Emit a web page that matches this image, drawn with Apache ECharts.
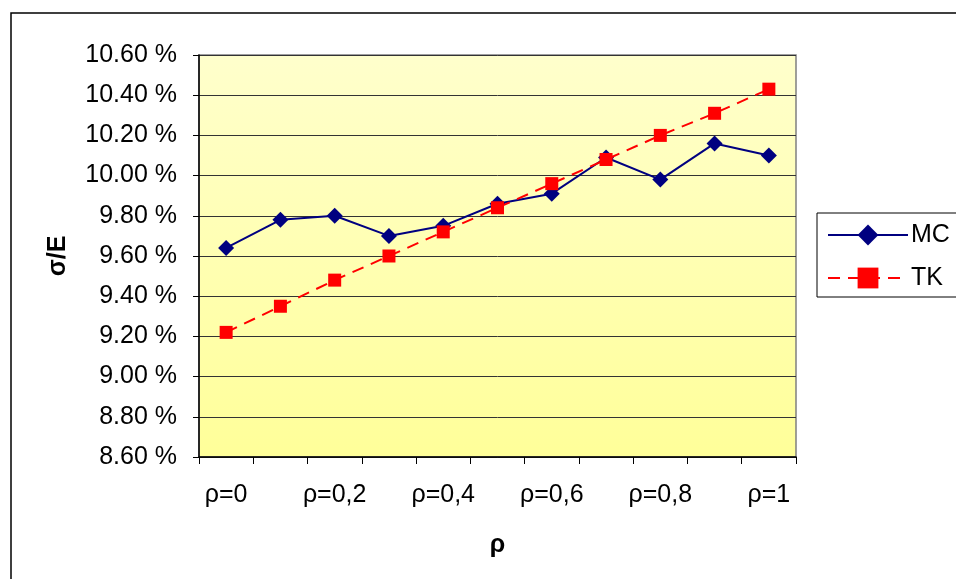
<!DOCTYPE html>
<html>
<head>
<meta charset="utf-8">
<script src="https://cdn.jsdelivr.net/npm/echarts@6/dist/echarts.min.js"></script>
<style>
  html, body { margin: 0; padding: 0; background: #fff; }
  #chart { width: 956px; height: 579px; }
</style>
</head>
<body>
<div id="chart"></div>
<script>
// Correlation levels on the x axis
var categories = ['ρ=0', 'ρ=0,1', 'ρ=0,2', 'ρ=0,3', 'ρ=0,4', 'ρ=0,5',
                  'ρ=0,6', 'ρ=0,7', 'ρ=0,8', 'ρ=0,9', 'ρ=1'];
// σ/E in percent
var mcValues = [9.64, 9.78, 9.80, 9.70, 9.75, 9.86, 9.91, 10.09, 9.98, 10.16, 10.10];
var tkValues = [9.22, 9.35, 9.48, 9.60, 9.72, 9.84, 9.96, 10.08, 10.20, 10.31, 10.43];
var seriesNames = ['MC', 'TK'];
var yMin = 8.6, yMax = 10.6, yStep = 0.2;

var FONT = 'Liberation Sans, Arial, sans-serif';
var chart = echarts.init(document.getElementById('chart'), null, { renderer: 'canvas' });

chart.setOption({
  backgroundColor: '#ffffff',
  animation: false,
  graphic: [{
    type: 'rect',
    shape: { x: 11, y: 13, width: 1000, height: 620 },
    style: { fill: 'none', stroke: '#000', lineWidth: 1.5 },
    silent: true,
    z: -10
  }],
  grid: {
    left: 199, top: 55, right: 160, bottom: 122,
    show: true,
    borderColor: '#808080',
    borderWidth: 1.5,
    backgroundColor: new echarts.graphic.LinearGradient(0, 0, 0, 1, [
      { offset: 0, color: '#FFFFCC' },
      { offset: 1, color: '#FFFF99' }
    ])
  },
  legend: {
    orient: 'vertical',
    left: 817, top: 213,
    padding: [8, 60, 5, 10],
    itemWidth: 80, itemHeight: 26,
    itemGap: 15,
    borderColor: '#000', borderWidth: 1,
    backgroundColor: '#fff',
    textStyle: { fontFamily: FONT, fontSize: 25, color: '#000', lineHeight: 28, padding: [0, 0, 0, -2] },
    data: seriesNames
  },
  xAxis: {
    type: 'category',
    data: categories,
    boundaryGap: true,
    name: 'ρ',
    nameLocation: 'middle',
    nameGap: 76,
    nameTextStyle: { fontFamily: FONT, fontSize: 25, fontWeight: 'bold', color: '#000' },
    axisLine: { lineStyle: { color: '#000', width: 1.5 } },
    axisTick: { show: true, interval: 0, length: 7, lineStyle: { color: '#000' } },
    axisLabel: { interval: 1, margin: 26, fontFamily: FONT, fontSize: 25, color: '#000' },
    splitLine: { show: false }
  },
  yAxis: {
    type: 'value',
    min: yMin, max: yMax, interval: yStep,
    name: 'σ/E',
    nameLocation: 'middle',
    nameGap: 128,
    nameTextStyle: { fontFamily: FONT, fontSize: 25, fontWeight: 'bold', color: '#000' },
    axisLine: { show: true, lineStyle: { color: '#000', width: 1.5 } },
    axisTick: { show: true, length: 6, lineStyle: { color: '#000' } },
    axisLabel: {
      margin: 22, fontFamily: FONT, fontSize: 25, color: '#000',
      formatter: function (v) { return v.toFixed(2) + ' %'; }
    },
    splitLine: { show: true, lineStyle: { color: '#333', width: 1 } }
  },
  series: [{
    name: seriesNames[0],
    type: 'line',
    data: mcValues,
    symbol: 'diamond',
    symbolSize: 16,
    color: '#000080',
    lineStyle: { color: '#000080', width: 2 },
    itemStyle: { color: '#000080' },
    z: 3
  }, {
    name: seriesNames[1],
    type: 'line',
    data: tkValues,
    symbol: 'rect',
    symbolSize: 13,
    color: '#FF0000',
    lineStyle: { color: '#FF0000', width: 2, type: [12, 8] },
    itemStyle: { color: '#FF0000' },
    z: 4
  }]
});
</script>
</body>
</html>
